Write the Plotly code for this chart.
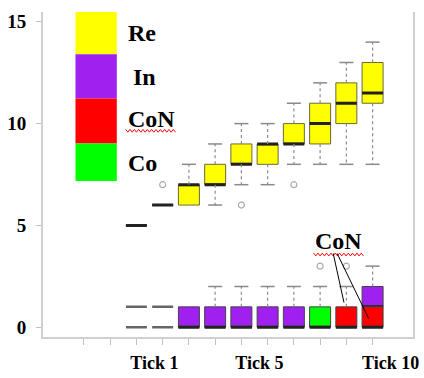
import plotly.graph_objects as go

# ---------------- data ----------------
tick_vals = [-1, 0, 1, 2, 3, 4, 5, 6, 7, 8, 9, 10]
tick_text = ["", "", "Tick 1", "", "", "", "Tick 5", "", "", "", "", "Tick 10"]

re_x   = [1, 2, 3, 4, 5, 6, 7, 8, 9, 10]
re_q1  = [5, 6, 6, 7, 8, 8, 9, 9, 10, 11]
re_med = [5, 6, 7, 7, 8, 9, 9, 10, 11, 11.5]
re_q3  = [5, 6, 7, 8, 9, 9, 10, 11, 12, 13]
re_lo  = [5, 6, 6, 6, 7, 7, 8, 8, 8, 8]
re_hi  = [5, 6, 8, 9, 10, 10, 11, 12, 13, 14]
re_out_x = [2, 5, 7]
re_out_y = [7, 6, 7]

in_x   = [3, 4, 5, 6, 7, 10]
in_q1  = [0, 0, 0, 0, 0, 1]
in_med = [0, 0, 0, 0, 0, 1]
in_q3  = [1, 1, 1, 1, 1, 2]
in_lo  = [0, 0, 0, 0, 0, 1]
in_hi  = [1, 2, 2, 2, 2, 3]

co_x   = [8]
co_q1  = [0]
co_med = [0]
co_q3  = [1]
co_lo  = [0]
co_hi  = [2]
co_out_x = [8]
co_out_y = [3]

con_x   = [9, 10]
con_q1  = [0, 0]
con_med = [0, 0]
con_q3  = [1, 1]
con_lo  = [0, 0]
con_hi  = [2, 1]
con_out_x = [9]
con_out_y = [3]

flat_x  = [1, 2]
flat_lo = [0, 0]
flat_hi = [1, 1]

legend_names = ["Re", "In", "CoN", "Co"]
legend_colors = ["#FFFF00", "#A020F0", "#FF0000", "#00FF00"]

# ---------------- figure ----------------
fig = go.Figure()
BW = 0.8
WH = "#8a8a8a"

def add_series(x, q1, med, q3, lo, hi, color, ox=None, oy=None):
    # whiskers (dotted)
    wx, wy, cx, cy = [], [], [], []
    for xi, a, b, l, h in zip(x, q1, q3, lo, hi):
        if h > b:
            wx += [xi, xi, None]; wy += [b, h, None]
            cx.append(xi); cy.append(h)
        if l < a:
            wx += [xi, xi, None]; wy += [a, l, None]
            cx.append(xi); cy.append(l)
    if wx:
        fig.add_trace(go.Scatter(x=wx, y=wy, mode="lines",
                                 line=dict(color=WH, width=1.2, dash="dot"),
                                 showlegend=False, hoverinfo="skip"))
        fig.add_trace(go.Scatter(x=cx, y=cy, mode="markers",
                                 marker=dict(symbol="line-ew", size=10, color=WH,
                                             line=dict(color=WH, width=1.5)),
                                 showlegend=False, hoverinfo="skip"))
    if ox:
        fig.add_trace(go.Scatter(x=ox, y=oy, mode="markers",
                                 marker=dict(symbol="circle-open", size=6, color="#aaaaaa",
                                             line=dict(color="#aaaaaa", width=1.2)),
                                 showlegend=False, hoverinfo="skip"))
    # boxes
    fig.add_trace(go.Box(x=x, q1=q1, median=med, q3=q3,
                         lowerfence=q1, upperfence=q3,
                         width=BW, whiskerwidth=0, boxpoints=False,
                         fillcolor=color, line=dict(color="#6a6a3a" if color == "#FFFF00" else "#444444", width=1),
                         showlegend=False, hoverinfo="skip"))
    # medians (thick)
    fig.add_trace(go.Box(x=x, q1=med, median=med, q3=med,
                         lowerfence=med, upperfence=med,
                         width=BW, whiskerwidth=0, boxpoints=False,
                         fillcolor="rgba(0,0,0,0)", line=dict(color="#222222", width=3),
                         showlegend=False, hoverinfo="skip"))

add_series(re_x, re_q1, re_med, re_q3, re_lo, re_hi, "#FFFF00", re_out_x, re_out_y)
add_series(in_x, in_q1, in_med, in_q3, in_lo, in_hi, "#A020F0")
add_series(co_x, co_q1, co_med, co_q3, co_lo, co_hi, "#00FF00", co_out_x, co_out_y)
add_series(con_x, con_q1, con_med, con_q3, con_lo, con_hi, "#FF0000", con_out_x, con_out_y)

for vals in (flat_lo, flat_hi):
    fig.add_trace(go.Box(x=flat_x, q1=vals, median=vals, q3=vals,
                         lowerfence=vals, upperfence=vals,
                         width=BW, whiskerwidth=0, boxpoints=False,
                         fillcolor="rgba(0,0,0,0)", line=dict(color="#666666", width=2.5),
                         showlegend=False, hoverinfo="skip"))

# ---------------- layout ----------------
W, H = 424, 378
L, R, T, B = 43, 5, 12, 35
PW, PH = W - L - R, H - T - B

def px(x):
    return (x - L) / PW

def py(y):
    return (H - B - y) / PH

shapes = []
tops = [12, 55, 100, 146]
bots = [55, 100, 146, 184]
for c, t, b in zip(legend_colors, tops, bots):
    shapes.append(dict(type="rect", xref="paper", yref="paper",
                       x0=px(76), x1=px(118), y0=py(b), y1=py(t),
                       fillcolor=c, line=dict(width=0), layer="above"))

def zigzag(x0, x1, y, amp=1.4, step=2.2):
    pts = []
    x = x0
    k = 0
    while x <= x1:
        yy = y + (amp if k % 2 else -amp)
        pts.append(f"{px(x):.5f},{py(yy):.5f}")
        x += step
        k += 1
    return "M" + " L".join(pts)

shapes.append(dict(type="path", xref="paper", yref="paper",
                   path=zigzag(127, 179, 133), line=dict(color="red", width=1)))
shapes.append(dict(type="path", xref="paper", yref="paper",
                   path=zigzag(318, 369, 259), line=dict(color="red", width=1)))
# callout lines
shapes.append(dict(type="line", xref="x", yref="y", x0=8.50, y0=3.62, x1=8.91, y1=1.21,
                   line=dict(color="black", width=1)))
shapes.append(dict(type="line", xref="x", yref="y", x0=8.65, y0=3.62, x1=9.85, y1=0.43,
                   line=dict(color="black", width=1)))

LF = dict(family="Liberation Serif", size=24, color="black", weight="bold")
annotations = []
label_y = [33, 78, 121, 166]
label_x = [127, 132, 127, 127]
for name, lx, ly in zip(legend_names, label_x, label_y):
    annotations.append(dict(text=name, xref="paper", yref="paper",
                            x=px(lx), y=py(ly), xanchor="left", yanchor="middle",
                            showarrow=False, font=LF))
annotations.append(dict(text="CoN", xref="paper", yref="paper",
                        x=px(343), y=py(245), xanchor="center", yanchor="middle",
                        showarrow=False, font=LF))

fig.update_layout(
    width=W, height=H,
    margin=dict(l=L, r=R, t=T, b=B, pad=0),
    paper_bgcolor="white", plot_bgcolor="white",
    boxmode="overlay", showlegend=False,
    shapes=shapes, annotations=annotations,
    xaxis=dict(type="linear", range=[-2.56, 11.54], tickvals=tick_vals, ticktext=tick_text,
               showgrid=False, zeroline=False, showline=True, linecolor="#d0d0d0", linewidth=2,
               ticks="outside", ticklen=6, tickcolor="#c0c0c0", tickwidth=1,
               ticklabelshift=18, ticklabelstandoff=2,
               tickfont=dict(family="Liberation Serif", size=18, color="black", weight="bold")),
    yaxis=dict(range=[-0.48, 15.48], tickvals=[0, 5, 10, 15],
               showgrid=False, zeroline=False, showline=True, linecolor="#d0d0d0", linewidth=2,
               mirror=True,
               ticks="outside", ticklen=5, tickcolor="#c0c0c0", tickwidth=1,
               ticklabelstandoff=6,
               tickfont=dict(family="Liberation Serif", size=19, color="black", weight="bold")),
)

fig.write_html("out.html")
